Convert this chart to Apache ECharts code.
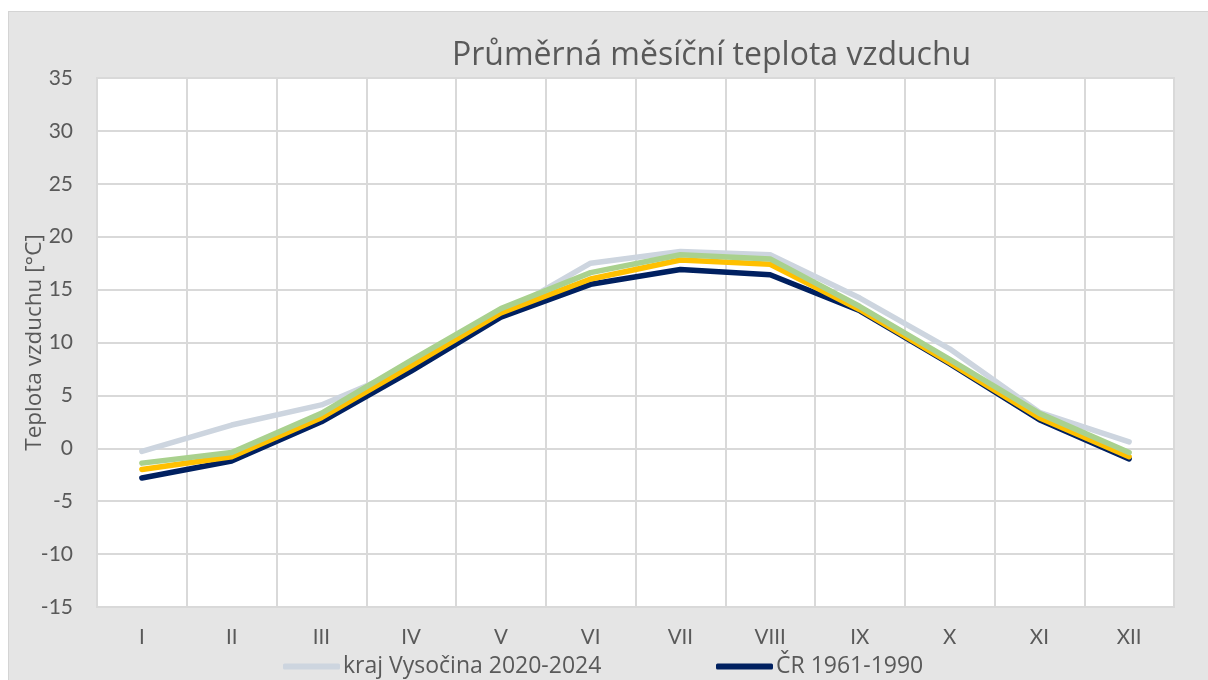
<!DOCTYPE html>
<html>
<head>
<meta charset="utf-8">
<script src="https://cdn.jsdelivr.net/npm/echarts@6/dist/echarts.min.js"></script>
<style>
  html, body { margin: 0; padding: 0; background: #ffffff; width: 1208px; height: 680px; overflow: hidden; }
  #chart { position: absolute; left: 8px; top: 11px; width: 1200px; height: 669px;
           background: #e5e5e5; border-left: 1px solid #d4d4d4; border-top: 1px solid #d4d4d4; }
</style>
</head>
<body>
<div id="chart"></div>
<script>
const categories = ['I', 'II', 'III', 'IV', 'V', 'VI', 'VII', 'VIII', 'IX', 'X', 'XI', 'XII'];
const seriesNames = ['kraj Vysočina 2020-2024', 'ČR 1961-1990', 'kraj Vysočina 1991-2020', 'ČR 1991-2020'];
const krajRecent = [-0.3, 2.2, 4.1, 7.7, 12.6, 17.5, 18.6, 18.3, 14.2, 9.4, 3.4, 0.6];
const cr6190 = [-2.8, -1.2, 2.5, 7.3, 12.4, 15.5, 16.9, 16.4, 13.0, 8.0, 2.7, -1.0];
const yellowSeries = [-2.0, -0.8, 2.9, 7.8, 12.8, 16.0, 17.8, 17.4, 13.1, 8.1, 2.9, -0.8];
const greenSeries = [-1.4, -0.4, 3.3, 8.3, 13.2, 16.6, 18.3, 17.9, 13.4, 8.4, 3.3, -0.4];
const yTicks = { min: -15, max: 35, interval: 5 };
const titleText = 'Průměrná měsíční teplota vzduchu';
const yAxisName = 'Teplota vzduchu [°C]';

const colors = ['#cdd5df', '#002060', '#ffc000', '#a9d18e'];
const dataSets = [krajRecent, cr6190, yellowSeries, greenSeries];
const FONT = 'Lato';
const FONT_TXT = 'Open Sans';
const TXT = '#595959';

const chart = echarts.init(document.getElementById('chart'), null, { renderer: 'canvas' });
chart.setOption({
  animation: false,
  textStyle: { fontFamily: FONT },
  title: {
    text: titleText,
    left: 438, top: 23,
    textStyle: { fontFamily: FONT_TXT, fontSize: 32, fontWeight: 'normal', color: TXT }
  },
  legend: [
    { data: [seriesNames[0]], left: 269, top: 638, icon: 'roundRect', itemWidth: 57, itemHeight: 6, itemGap: 4,
      textStyle: { fontFamily: FONT_TXT, fontSize: 23, color: TXT, padding: [0,0,0,-2] } },
    { data: [seriesNames[1]], left: 702, top: 638, icon: 'roundRect', itemWidth: 57, itemHeight: 6, itemGap: 4,
      textStyle: { fontFamily: FONT_TXT, fontSize: 23, color: TXT, padding: [0,0,0,-2] } }
  ],
  grid: { left: 88, top: 66, width: 1077, height: 529, show: true, backgroundColor: '#ffffff',
          borderColor: '#d9d9d9', borderWidth: 2, containLabel: false, outerBoundsMode: 'none' },
  xAxis: {
    type: 'category', data: categories, boundaryGap: true,
    axisLine: { show: true, lineStyle: { color: '#d9d9d9', width: 2 } },
    axisTick: { show: false },
    axisLabel: { color: TXT, fontSize: 20.5, fontFamily: FONT, margin: 20 },
    splitLine: { show: true, lineStyle: { color: '#d9d9d9', width: 2 } }
  },
  yAxis: {
    type: 'value', min: yTicks.min, max: yTicks.max, interval: yTicks.interval,
    name: yAxisName, nameLocation: 'middle', nameGap: 51, nameRotate: 90, nameMoveOverlap: false,
    nameTextStyle: { color: TXT, fontSize: 22.5, fontFamily: FONT_TXT },
    axisLine: { show: false }, axisTick: { show: false },
    axisLabel: { color: TXT, fontSize: 21, fontFamily: FONT, margin: 24 },
    splitLine: { show: true, lineStyle: { color: '#d9d9d9', width: 2 } }
  },
  series: dataSets.map((d, i) => ({
    name: seriesNames[i], type: 'line', data: d, symbol: 'none', smooth: false,
    lineStyle: { color: colors[i], width: 5.5, cap: 'round', join: 'round' },
    itemStyle: { color: colors[i] }, z: 2 + i
  }))
});
</script>
</body>
</html>
